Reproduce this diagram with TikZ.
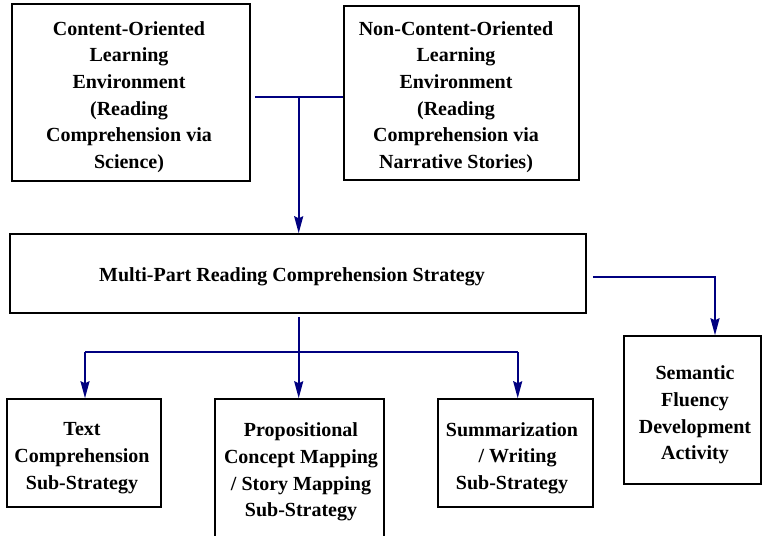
\documentclass[tikz,border=0pt]{standalone}
\usepackage{fontspec}
\setmainfont{Liberation Serif}
\usetikzlibrary{arrows.meta,calc}
\definecolor{linkblue}{RGB}{0,0,128}
\begin{document}
\begin{tikzpicture}[x=1pt,y=-1pt,
  box/.style={draw=black,line width=1.5pt,inner sep=0pt,rectangle},
  lbl/.style={inner sep=0pt,align=center,font=\fontsize{20}{26.7}\selectfont\bfseries},
  conn/.style={draw=linkblue,line width=1.8pt},
  arr/.style={conn,-{Stealth[length=17pt,width=9pt,inset=2pt]}}]
\useasboundingbox (0,0) rectangle (762,535);
\clip (0,0) rectangle (762,535);
% boxes
\node[box,minimum width=238pt,minimum height=177pt] (b1) at (131,92.5) {};
\node[box,minimum width=235pt,minimum height=174pt] (b2) at (461.5,93) {};
\node[box,minimum width=576pt,minimum height=79pt] (b3) at (298,273.5) {};
\node[box,minimum width=154pt,minimum height=108pt] (b4) at (84,453) {};
\node[box,minimum width=169pt,minimum height=146pt] (b5) at (299.5,472) {};
\node[box,minimum width=155pt,minimum height=108pt] (b6) at (515.5,453) {};
\node[box,minimum width=137pt,minimum height=148pt] (b7) at (692.5,410) {};
% labels
\node[lbl] (t1) at (129,97) {Content-Oriented\\Learning\\Environment\\(Reading\\Comprehension via\\Science)};
\node[lbl] (t2) at (456,97) {Non-Content-Oriented\\Learning\\Environment\\(Reading\\Comprehension via\\Narrative Stories)};
\node[lbl] (t3) at (292,277) {Multi-Part Reading Comprehension Strategy};
\node[lbl] (t4) at (82,458) {Text\\Comprehension\\Sub-Strategy};
\node[lbl] (t5) at (301,472) {Propositional\\Concept Mapping\\/ Story Mapping\\Sub-Strategy};
\node[lbl] (t6) at (512,458) {Summarization\\\hspace*{11pt}/ Writing\\Sub-Strategy};
\node[lbl] (t7) at (695,415) {Semantic\\Fluency\\Development\\Activity};
% connectors
\coordinate (j1) at (298.7,96.7);
\draw[conn,shorten <=4pt] (b1.east |- j1) -- (b2.west |- j1);
\draw[arr] (j1) -- (j1 |- b3.north);
\coordinate (k1) at (715,277);
\draw[arr,shorten <=6pt] (b3.east |- k1) -- (k1) -- (k1 |- b7.north);
\coordinate (bus) at (298.7,352);
\coordinate (busL) at (85,352);
\coordinate (busR) at (517.7,352);
\draw[conn,shorten <=3pt] (b3.south -| bus) -- (bus);
\draw[conn] (busL) -- (busR);
\draw[arr] (busL) -- (busL |- b4.north);
\draw[arr] (bus) -- (bus |- b5.north);
\draw[arr] (busR) -- (busR |- b6.north);
\end{tikzpicture}
\end{document}
